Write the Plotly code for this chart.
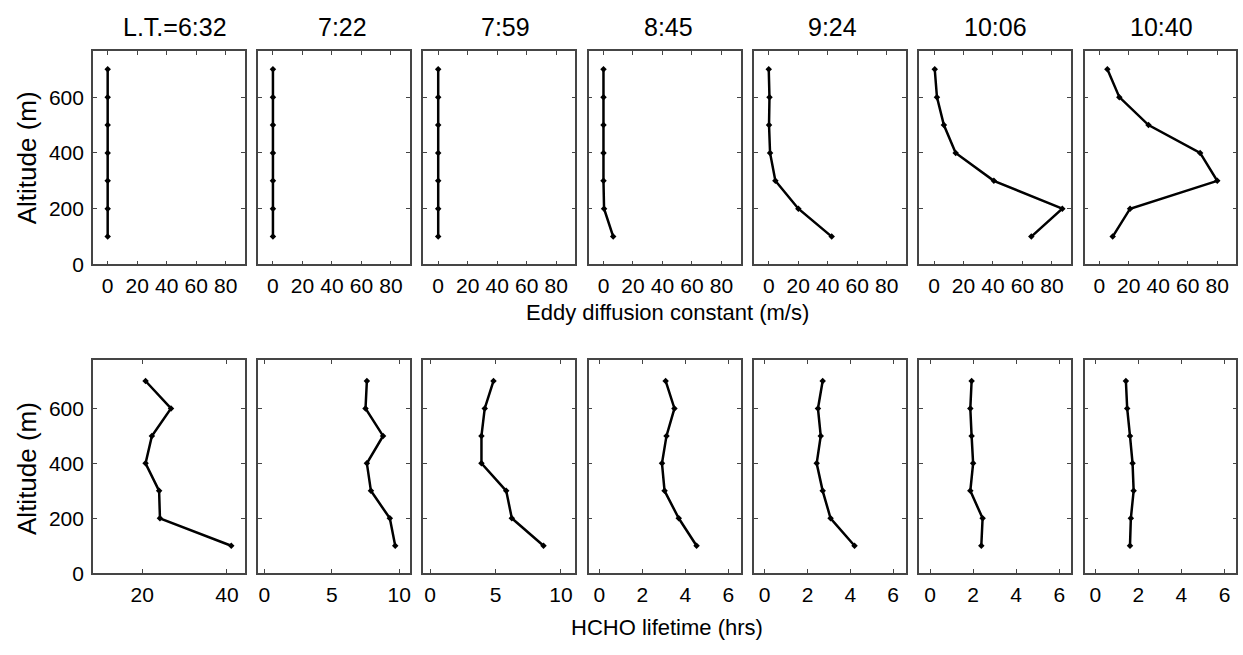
import plotly.graph_objects as go

# altitude levels (m), shared by every profile
altitude = [100, 200, 300, 400, 500, 600, 700]

local_times = ['L.T.=6:32', '7:22', '7:59', '8:45', '9:24', '10:06', '10:40']

# eddy diffusion constant (m/s), from 100 m up to 700 m
eddy_0632 = [0, 0, 0, 0, 0, 0, 0]
eddy_0722 = [0, 0, 0, 0, 0, 0, 0]
eddy_0759 = [0, 0, 0, 0, 0, 0, 0]
eddy_0845 = [6.6, 0.4, 0, 0, 0, 0, 0]
eddy_0924 = [42.7, 20.1, 4.5, 0.9, 0.2, 0.5, 0]
eddy_1006 = [66, 87, 40.6, 14.7, 6.7, 2, 0.5]
eddy_1040 = [9.1, 20.9, 80, 68.4, 33.4, 13.6, 5.5]

# HCHO lifetime (hrs), from 100 m up to 700 m
life_0632 = [41, 24.2, 24.0, 20.8, 22.3, 26.8, 20.8]
life_0722 = [9.7, 9.3, 7.9, 7.6, 8.8, 7.5, 7.6]
life_0759 = [8.67, 6.25, 5.82, 3.93, 3.93, 4.18, 4.85]
life_0845 = [4.52, 3.69, 3.03, 2.91, 3.12, 3.49, 3.08]
life_0924 = [4.2, 3.08, 2.71, 2.43, 2.62, 2.49, 2.71]
life_1006 = [2.38, 2.44, 1.87, 2.0, 1.93, 1.87, 1.93]
life_1040 = [1.61, 1.65, 1.78, 1.73, 1.61, 1.48, 1.42]

eddy_profiles = [eddy_0632, eddy_0722, eddy_0759, eddy_0845,
                 eddy_0924, eddy_1006, eddy_1040]
life_profiles = [life_0632, life_0722, life_0759, life_0845,
                 life_0924, life_1006, life_1040]

eddy_ticks = [0, 20, 40, 60, 80]
life_ranges = [[8.4, 44.2], [-0.45, 10.8], [-0.5, 11.1], [-0.5, 6.57],
               [-0.5, 6.6], [-0.5, 6.55], [-0.5, 6.55]]
life_dticks = [20, 5, 5, 2, 2, 2, 2]

W, H = 1243, 655
FONT = 'Liberation Sans, Arial, sans-serif'
panel_left = [93 + 165.4 * i for i in range(7)]
panel_w = 152
row_spans = {'top': (52, 269), 'bottom': (366, 583)}
title_offsets = [6, 8, 6, 4, 3, 0, 1]


def px(x):
    return x / W


def py(y):
    return 1 - y / H


def xdom(i):
    return [px(panel_left[i]), px(panel_left[i] + panel_w)]


def ydom(row):
    y0, y1 = row_spans[row]
    return [py(y1), py(y0)]


fig = go.Figure()
layout = {}

axis_style = dict(
    showline=True, mirror='ticks', linecolor='#454545', linewidth=1.5,
    ticks='inside', ticklen=4, tickcolor='#454545', tickwidth=1,
    showgrid=False, zeroline=False,
    tickfont=dict(family=FONT, size=21, color='black'),
)

for i in range(7):
    for row, profiles in (('top', eddy_profiles), ('bottom', life_profiles)):
        n = i + 1 if row == 'top' else i + 8
        xa = 'x' if n == 1 else f'x{n}'
        ya = 'y' if n == 1 else f'y{n}'
        fig.add_trace(go.Scatter(
            x=profiles[i], y=altitude, xaxis=xa, yaxis=ya,
            mode='lines+markers',
            line=dict(color='black', width=2.5),
            marker=dict(symbol='diamond', size=5, color='black'),
            showlegend=False,
        ))
        xkey = 'xaxis' if n == 1 else f'xaxis{n}'
        ykey = 'yaxis' if n == 1 else f'yaxis{n}'
        if row == 'top':
            xcfg = dict(range=[-10, 93], tickvals=eddy_ticks)
            ycfg = dict(range=[0, 765])
        else:
            xcfg = dict(range=life_ranges[i], dtick=life_dticks[i], tick0=0)
            ycfg = dict(range=[0, 777])
        layout[xkey] = dict(domain=xdom(i), anchor=ya, ticklabelstandoff=2,
                            **xcfg, **axis_style)
        layout[ykey] = dict(domain=ydom(row), anchor=xa,
                            tickvals=[0, 200, 400, 600],
                            showticklabels=(i == 0), ticklabelstandoff=3,
                            **ycfg, **axis_style)

annotations = []
for i, label in enumerate(local_times):
    annotations.append(dict(
        text=label, x=px(panel_left[i] + panel_w / 2 + title_offsets[i]),
        y=py(27), xref='paper', yref='paper', showarrow=False,
        xanchor='center', yanchor='middle',
        font=dict(family=FONT, size=25, color='black'),
    ))

for text, yc in (('Eddy diffusion constant (m/s)', 318),
                 ('HCHO lifetime (hrs)', 638)):
    annotations.append(dict(
        text=text, x=px(668), y=py(yc),
        xref='paper', yref='paper', showarrow=False,
        xanchor='center', yanchor='middle',
        font=dict(family=FONT, size=22, color='black'),
    ))
for yc in (160, 476):
    annotations.append(dict(
        text='Altitude (m)', x=px(27), y=py(yc), textangle=-90,
        xref='paper', yref='paper', showarrow=False,
        xanchor='center', yanchor='middle',
        font=dict(family=FONT, size=26, color='black'),
    ))

fig.update_layout(
    width=W, height=H,
    margin=dict(l=0, r=0, t=0, b=0),
    paper_bgcolor='white', plot_bgcolor='white',
    annotations=annotations,
    **layout,
)

# drop the page's default body margin so the figure sits at the window corner
fig.write_html("out.html", config={'displayModeBar': False},
               post_script="document.body.style.margin = '0';")
